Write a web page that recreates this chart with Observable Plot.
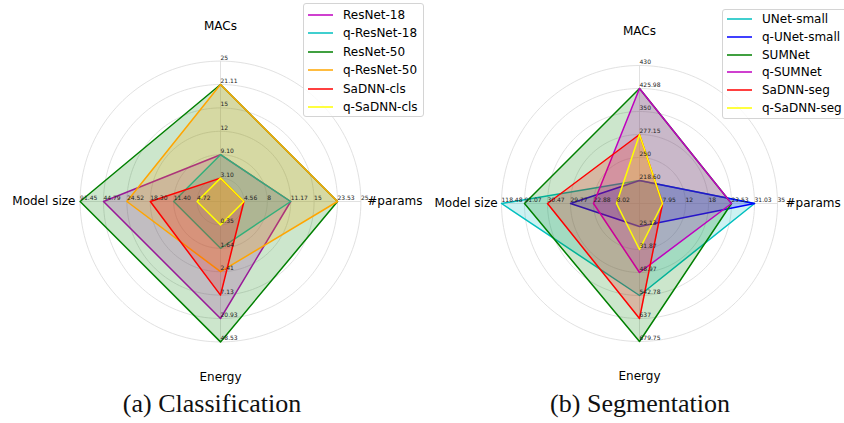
<!DOCTYPE html>
<html><head><meta charset="utf-8">
<script src="https://cdn.jsdelivr.net/npm/d3@7"></script>
<script src="https://cdn.jsdelivr.net/npm/@observablehq/plot@0.6"></script>
<style>
html,body{margin:0;padding:0;background:#fff;overflow:hidden;}
#wrap{position:relative;width:844px;height:423px;font-family:"DejaVu Sans",sans-serif;overflow:hidden;}
.chart{position:absolute;top:0;}
.legend{position:absolute;background:rgba(255,255,255,0.8);border:1px solid #d4d4d4;border-radius:3px;font-size:12px;color:#000;box-sizing:border-box;}
.cap{position:absolute;font-family:"Liberation Serif",serif;font-size:26px;transform:translateX(-50%);white-space:nowrap;color:#111;}
</style></head><body><div id="wrap"></div>
<script>
// ---- shared axes ----
const axesNames = ["MACs", "#params", "Energy", "Model size"];

// ---- (a) Classification ----
const clsSeries = ["ResNet-18", "q-ResNet-18", "ResNet-50", "q-ResNet-50", "SaDNN-cls", "q-SaDNN-cls"];
const clsColors = ["#bf00bf", "#00bfbf", "#008000", "#ffa500", "#ff0000", "#ffff00"];
const clsMacs   = [9.10, 9.10, 21.11, 21.11, 3.10, 3.10];
const clsParams = [11.17, 11.17, 23.53, 23.53, 4.56, 4.56];
const clsEnergy = [20.93, 1.64, 48.53, 2.41, 7.13, 0.35];
const clsSize   = [44.79, 11.40, 91.45, 24.52, 18.30, 4.72];
const clsMacsTicks   = ["3.10", "9.10", "12", "15", "21.11", "25"];
const clsParamsTicks = ["4.56", "8", "11.17", "15", "23.53", "25"];
const clsEnergyTicks = ["0.35", "1.64", "2.41", "7.13", "20.93", "48.53"];
const clsSizeTicks   = ["4.72", "11.40", "18.30", "24.52", "44.79", "91.45"];

// ---- (b) Segmentation ----
const segSeries = ["UNet-small", "q-UNet-small", "SUMNet", "q-SUMNet", "SaDNN-seg", "q-SaDNN-seg"];
const segColors = ["#00bfbf", "#0000ff", "#008000", "#bf00bf", "#ff0000", "#ffff00"];
const segMacs   = [218.60, 218.60, 425.98, 425.98, 277.15, 277.15];
const segParams = [31.03, 31.03, 23.53, 23.53, 7.95, 7.95];
const segEnergy = [542.78, 25.13, 679.75, 48.97, 637, 31.87];
const segSize   = [118.48, 29.77, 91.07, 22.88, 30.47, 8.02];
const segMacsTicks   = ["218.60", "250", "277.15", "350", "425.98", "430"];
const segParamsTicks = ["7.95", "12", "18", "23.53", "31.03", "35"];
const segEnergyTicks = ["25.13", "31.87", "48.97", "542.78", "637", "679.75"];
const segSizeTicks   = ["8.02", "22.88", "29.77", "30.47", "91.07", "118.48"];

const wrap = document.getElementById("wrap");

function radar(o) {
  const n = axesNames.length;
  const ang = i => i * 2 * Math.PI / n;
  const scales = o.ticks.map(t => d3.scaleLinear().domain(t.map(Number)).range(d3.range(1, t.length + 1)));
  const nr = o.ticks[0].length;
  const pts = [];
  o.series.forEach((s, j) => {
    o.values.forEach((vals, i) => {
      const r = scales[i](vals[j]);
      pts.push({series: s, x: r * Math.sin(ang(i)), y: r * Math.cos(ang(i))});
    });
  });
  const rings = [];
  d3.range(1, nr + 1).forEach(k => d3.range(0, 360, 2).forEach(a => {
    const t = a * Math.PI / 180;
    rings.push({k, x: k * Math.sin(t), y: k * Math.cos(t)});
  }));
  const spokes = axesNames.map((name, i) => ({x2: nr * Math.sin(ang(i)), y2: nr * Math.cos(ang(i))}));
  const tickPts = [];
  o.ticks.forEach((t, i) => t.forEach((lab, k) => tickPts.push({x: (k + 1) * Math.sin(ang(i)), y: (k + 1) * Math.cos(ang(i)), text: lab})));
  const titles = axesNames.map((name, i) => {
    const s = Math.sin(ang(i));
    const anchor = s > 0.5 ? "start" : s < -0.5 ? "end" : "middle";
    const r = anchor === "middle" ? 7.5 : anchor === "start" ? o.rStart : o.rEnd;
    return {name, anchor, x: r * Math.sin(ang(i)), y: r * Math.cos(ang(i))};
  });
  const u = o.u, cx = o.cx, cy = o.cy;
  const svg = Plot.plot({
    width: o.width, height: o.height, margin: 0,
    x: {domain: [-nr, nr], range: [cx - nr * u, cx + nr * u], axis: null},
    y: {domain: [-nr, nr], range: [cy + nr * u, cy - nr * u], axis: null},
    color: {domain: o.series, range: o.colors},
    style: {background: "transparent", overflow: "visible", fontFamily: "DejaVu Sans"},
    marks: [
      Plot.line(rings, {x: "x", y: "y", z: "k", stroke: "#d9d9d9", strokeWidth: 0.8, curve: "linear-closed"}),
      Plot.link(spokes, {x1: d => 0, y1: d => 0, x2: "x2", y2: "y2", stroke: "#d9d9d9", strokeWidth: 0.8}),
      Plot.line(pts, {x: "x", y: "y", z: "series", stroke: "series", fill: "series", fillOpacity: 0.2, strokeWidth: 1.5, curve: "linear-closed"}),
      Plot.text(tickPts, {x: "x", y: "y", text: "text", textAnchor: "start", lineAnchor: "middle", dy: -3.5, fontSize: 6, fill: "#222"}),
      Plot.text(titles, {filter: d => d.anchor === "middle", x: "x", y: "y", text: "name", textAnchor: "middle", lineAnchor: "middle", fontSize: 12, fill: "#000"}),
      Plot.text(titles, {filter: d => d.anchor === "start", x: "x", y: "y", text: "name", textAnchor: "start", lineAnchor: "middle", fontSize: 12, fill: "#000"}),
      Plot.text(titles, {filter: d => d.anchor === "end", x: "x", y: "y", text: "name", textAnchor: "end", lineAnchor: "middle", fontSize: 12, fill: "#000"})
    ]
  });
  svg.classList.add("chart");
  svg.style.left = o.left + "px";
  wrap.appendChild(svg);

  // legend
  const lg = document.createElement("div");
  lg.className = "legend";
  Object.assign(lg.style, {left: o.lg.left + "px", top: o.lg.top + "px", width: o.lg.w + "px", height: o.lg.h + "px"});
  o.series.forEach((s, j) => {
    const row = document.createElement("div");
    Object.assign(row.style, {position: "absolute", left: "0px", top: (o.lg.first + j * o.lg.step - 9) + "px", height: "18px", display: "flex", alignItems: "center", whiteSpace: "nowrap"});
    const sw = d3.create("svg").attr("width", o.lg.textX).attr("height", 18);
    sw.append("line").attr("x1", o.lg.lineX).attr("x2", o.lg.lineX + 25).attr("y1", 9).attr("y2", 9)
      .attr("stroke", o.colors[j]).attr("stroke-width", 2).attr("stroke-opacity", 0.75);
    row.appendChild(sw.node());
    const t = document.createElement("span");
    t.textContent = s;
    row.appendChild(t);
    lg.appendChild(row);
  });
  wrap.appendChild(lg);

  const cap = document.createElement("div");
  cap.className = "cap";
  cap.textContent = o.caption;
  Object.assign(cap.style, {left: o.capX + "px", top: "389px"});
  wrap.appendChild(cap);
}

radar({
  series: clsSeries, colors: clsColors,
  values: [clsMacs, clsParams, clsEnergy, clsSize],
  ticks: [clsMacsTicks, clsParamsTicks, clsEnergyTicks, clsSizeTicks],
  width: 422, height: 390, left: 0, cx: 220, cy: 201, u: 23.4, rStart: 6.27, rEnd: 6.2,
  lg: {left: 303, top: 3, w: 121, h: 114, first: 11, step: 18.4, lineX: 4, textX: 39},
  caption: "(a) Classification", capX: 212
});
radar({
  series: segSeries, colors: segColors,
  values: [segMacs, segParams, segEnergy, segSize],
  ticks: [segMacsTicks, segParamsTicks, segEnergyTicks, segSizeTicks],
  width: 422, height: 390, left: 422, cx: 217, cy: 203, u: 23, rStart: 6.35, rEnd: 6.17,
  lg: {left: 722, top: 9, w: 135, h: 110, first: 9.3, step: 17.7, lineX: 4, textX: 39},
  caption: "(b) Segmentation", capX: 640
});
</script></body></html>
